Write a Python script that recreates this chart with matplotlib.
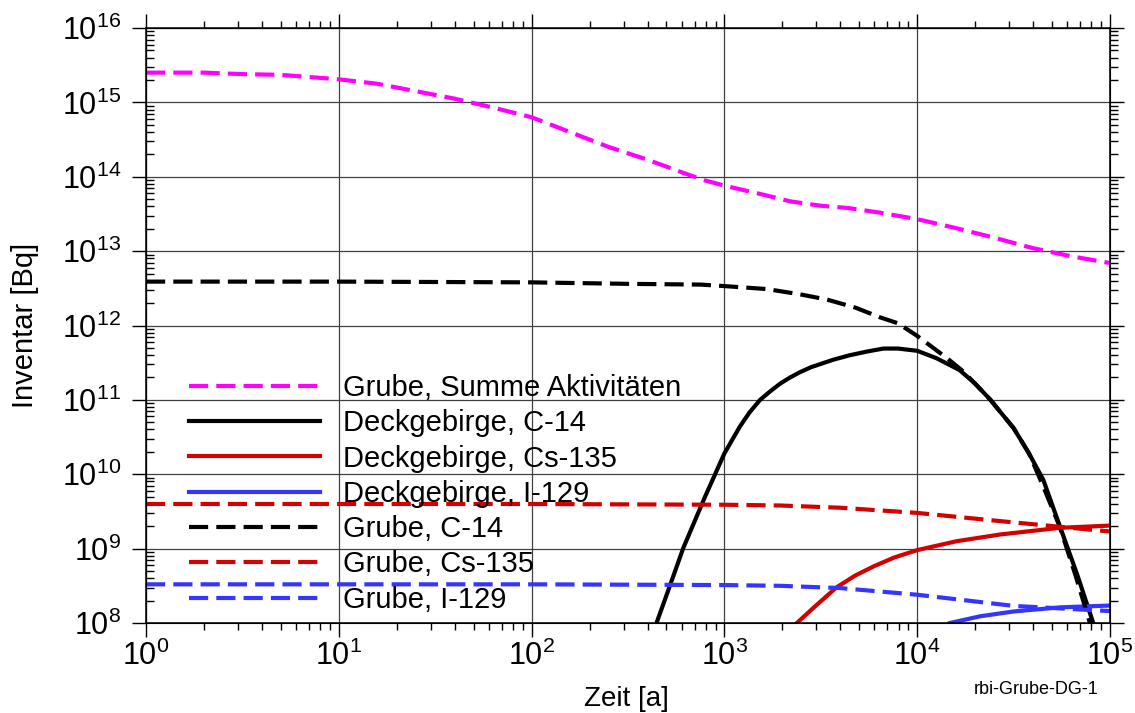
import math
import matplotlib
matplotlib.use('Agg')
import matplotlib.pyplot as plt
import numpy as np
from matplotlib.ticker import LogLocator, FuncFormatter, NullFormatter

plt.rcParams['font.family'] = ['Liberation Sans', 'DejaVu Sans']
plt.rcParams['mathtext.fontset'] = 'custom'
plt.rcParams['mathtext.rm'] = 'Liberation Sans'

# values: log10(Zeit [a]), log10(Inventar [Bq])

# Grube, Summe Aktivitaeten
summe_lt = [0, 0.3, 0.5, 0.7, 0.85, 1.0, 1.2, 1.4, 1.6, 1.8, 2.0, 2.2, 2.4, 2.6, 2.8, 2.9,
            3.0, 3.2, 3.34, 3.5, 3.64, 3.8, 4.0, 4.2, 4.4, 4.6, 4.8, 5.0]
summe_la = [15.40, 15.40, 15.38, 15.37, 15.34, 15.31, 15.25, 15.15, 15.05, 14.93, 14.80,
            14.60, 14.40, 14.23, 14.04, 13.95, 13.88, 13.76, 13.67, 13.61, 13.58, 13.52,
            13.43, 13.31, 13.18, 13.04, 12.93, 12.84]

# Deckgebirge, C-14
dg_c14_lt = [2.648, 2.72, 2.787, 2.9, 3.0, 3.08, 3.13, 3.185, 3.24, 3.29, 3.34, 3.39, 3.45,
             3.565, 3.65, 3.74, 3.825, 3.9, 4.0, 4.1, 4.22, 4.3, 4.38, 4.5, 4.58, 4.654,
             4.74, 4.83, 4.913]
dg_c14_la = [8.0, 8.52, 9.01, 9.70, 10.28, 10.64, 10.83, 11.0, 11.12, 11.22, 11.30, 11.37,
             11.44, 11.54, 11.60, 11.65, 11.69, 11.69, 11.66, 11.56, 11.40, 11.22, 11.0,
             10.62, 10.28, 9.925, 9.30, 8.65, 8.0]

# Deckgebirge, Cs-135
dg_cs_lt = [3.376, 3.46, 3.582, 3.68, 3.773, 3.88, 4.0, 4.205, 4.43, 4.74, 5.0]
dg_cs_la = [8.0, 8.20, 8.48, 8.64, 8.76, 8.88, 8.98, 9.10, 9.19, 9.28, 9.31]

# Deckgebirge, I-129
dg_i_lt = [4.17, 4.326, 4.5, 4.74, 5.0]
dg_i_la = [8.0, 8.09, 8.155, 8.21, 8.235]

# Grube, C-14
gr_c14_lt = [0, 1.0, 2.0, 2.5, 2.877, 3.0, 3.22, 3.39, 3.53, 3.68, 3.807, 3.9, 4.0, 4.155,
             4.24, 4.38, 4.5, 4.58, 4.65, 4.74, 4.82, 4.896]
gr_c14_la = [12.59, 12.59, 12.58, 12.56, 12.55, 12.53, 12.49, 12.42, 12.35, 12.24, 12.11,
             12.03, 11.86, 11.56, 11.38, 11.0, 10.62, 10.28, 9.86, 9.29, 8.65, 8.0]

# Grube, Cs-135
gr_cs_lt = [0, 2.0, 3.0, 3.29, 3.6, 4.0, 4.43, 5.0]
gr_cs_la = [9.60, 9.60, 9.59, 9.58, 9.55, 9.48, 9.37, 9.23]

# Grube, I-129
gr_i_lt = [0, 2.0, 3.0, 3.288, 3.6, 4.0, 4.5, 5.0]
gr_i_la = [8.52, 8.52, 8.51, 8.50, 8.47, 8.38, 8.23, 8.16]

magenta = '#ff00ff'
red = '#d40000'
blue = '#3535ff'
lw = 3.0
dash = (0, (4.6, 1.95))

series = [
    (summe_lt, summe_la, magenta, dash, 'Grube, Summe Aktivitäten'),
    (dg_c14_lt, dg_c14_la, 'black', '-', 'Deckgebirge, C-14'),
    (dg_cs_lt, dg_cs_la, red, '-', 'Deckgebirge, Cs-135'),
    (dg_i_lt, dg_i_la, blue, '-', 'Deckgebirge, I-129'),
    (gr_c14_lt, gr_c14_la, 'black', dash, 'Grube, C-14'),
    (gr_cs_lt, gr_cs_la, red, dash, 'Grube, Cs-135'),
    (gr_i_lt, gr_i_la, blue, dash, 'Grube, I-129'),
]

fig = plt.figure(figsize=(11.35, 7.13), dpi=100)
ax = fig.add_axes([146/1135, 1 - 623/713, 964/1135, 595/713])

for lt, la, col, ls, lab in series:
    ax.plot(10 ** np.array(lt), 10 ** np.array(la), color=col, lw=lw, ls=ls, label=lab)

ax.set_xscale('log')
ax.set_yscale('log')
ax.set_xlim(1, 1e5)
ax.set_ylim(1e8, 1e16)

fmt = FuncFormatter(lambda v, p: r'$\mathregular{10^{%d}}$' % round(math.log10(v)))
ax.xaxis.set_major_locator(LogLocator(base=10, numticks=10))
ax.xaxis.set_minor_locator(LogLocator(base=10, subs=range(2, 10), numticks=10))
ax.yaxis.set_major_locator(LogLocator(base=10, numticks=12))
ax.yaxis.set_minor_locator(LogLocator(base=10, subs=range(2, 10), numticks=12))
ax.xaxis.set_major_formatter(fmt)
ax.yaxis.set_major_formatter(fmt)
ax.xaxis.set_minor_formatter(NullFormatter())
ax.yaxis.set_minor_formatter(NullFormatter())

ax.grid(True, which='major', color='0.25', lw=0.9)
for s in ax.spines.values():
    s.set_linewidth(1.1)

ax.tick_params(axis='x', which='major', direction='out', length=10, width=1, top=True,
               labelsize=22, pad=3)
ax.tick_params(axis='x', which='minor', direction='out', length=5, width=1, top=True)
ax.tick_params(axis='y', which='major', direction='out', length=10, width=1, right=False,
               labelsize=22, pad=8)
ax.tick_params(axis='y', which='minor', direction='in', length=6, width=1, right=False)

# right axis: ticks all outward
ax2 = ax.twinx()
ax2.set_yscale('log')
ax2.set_ylim(1e8, 1e16)
ax2.yaxis.set_major_locator(LogLocator(base=10, numticks=12))
ax2.yaxis.set_minor_locator(LogLocator(base=10, subs=range(2, 10), numticks=12))
ax2.yaxis.set_major_formatter(NullFormatter())
ax2.yaxis.set_minor_formatter(NullFormatter())
ax2.tick_params(axis='y', which='major', direction='out', length=10, width=1)
ax2.tick_params(axis='y', which='minor', direction='out', length=6, width=1)

ax.legend(loc='upper left', bbox_to_anchor=(189/1135, 1 - 374/713),
          bbox_transform=fig.transFigure, frameon=False, fontsize=21,
          handlelength=4.49, handletextpad=0.79, labelspacing=0.25, borderpad=0,
          borderaxespad=0)

fig.text(25/1135, 1 - 325/713, 'Inventar [Bq]', rotation=90, fontsize=21,
         ha='center', va='center')
fig.text(626/1135, 1 - 699/713, 'Zeit [a]', fontsize=20, ha='center', va='center')
fig.text(1036/1135, 1 - 690/713, 'rbi-Grube-DG-1', fontsize=13, ha='center', va='center')

fig.savefig('out.png', dpi=100)
